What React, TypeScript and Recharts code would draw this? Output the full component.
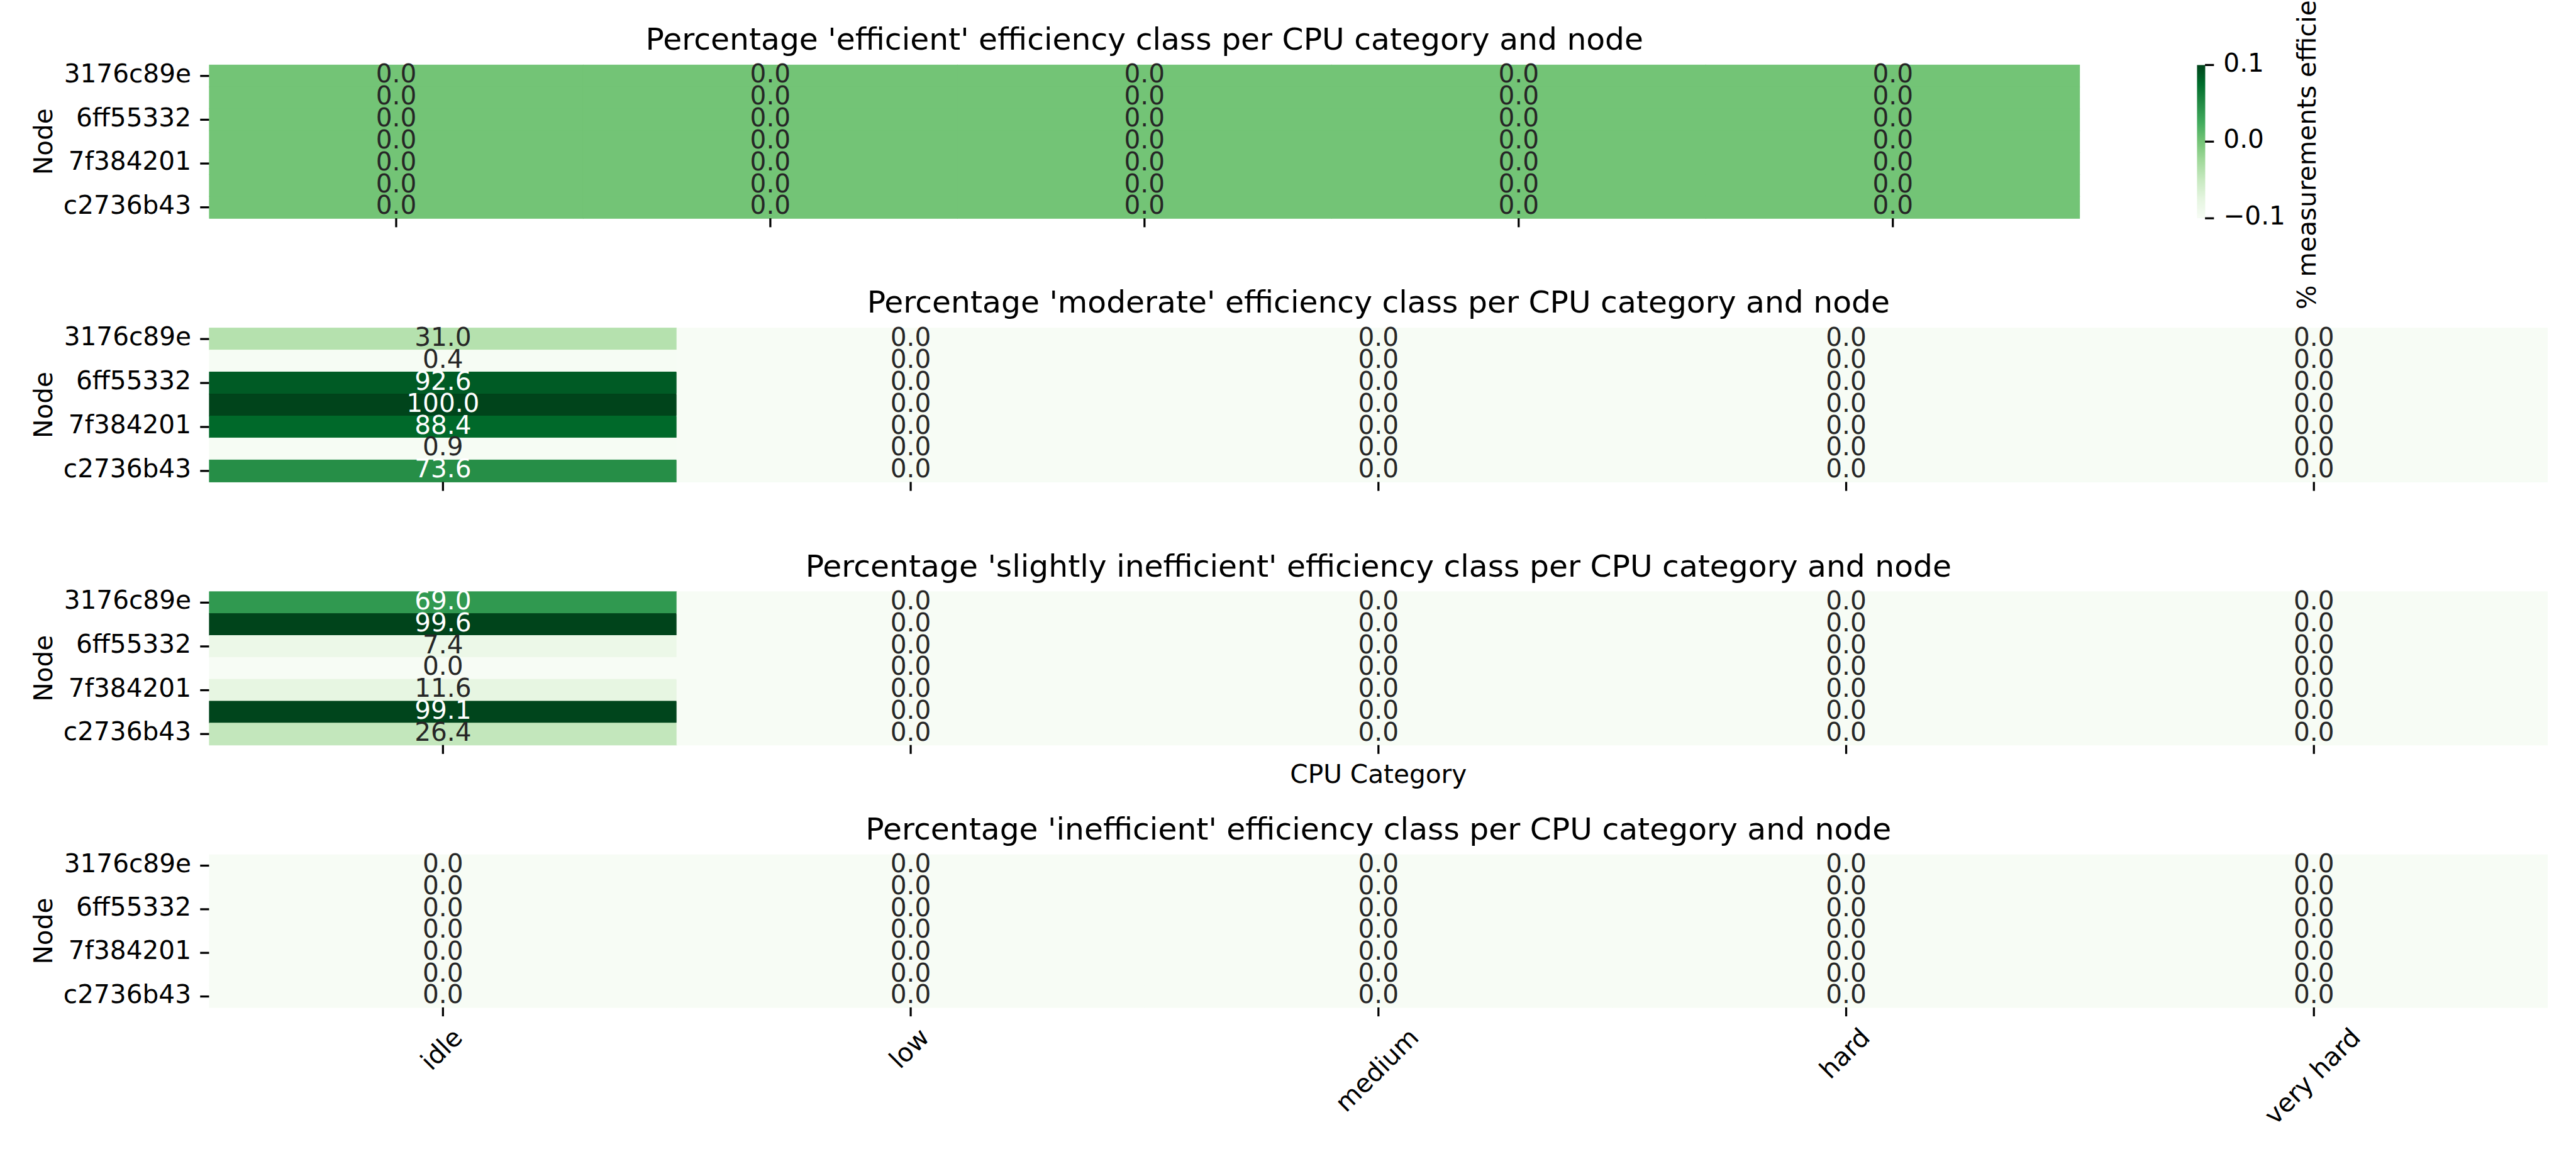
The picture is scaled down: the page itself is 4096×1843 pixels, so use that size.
import React from 'react';
import { BarChart, Bar, XAxis, YAxis, Customized } from 'recharts';

// ---------------- data ----------------
const nodes = ['3176c89e', 'node 2 (label hidden)', '6ff55332', 'node 4 (label hidden)', '7f384201', 'node 6 (label hidden)', 'c2736b43'];
const categories = ['idle', 'low', 'medium', 'hard', 'very hard'];

const efficientPct = [
  [0.0, 0.0, 0.0, 0.0, 0.0],
  [0.0, 0.0, 0.0, 0.0, 0.0],
  [0.0, 0.0, 0.0, 0.0, 0.0],
  [0.0, 0.0, 0.0, 0.0, 0.0],
  [0.0, 0.0, 0.0, 0.0, 0.0],
  [0.0, 0.0, 0.0, 0.0, 0.0],
  [0.0, 0.0, 0.0, 0.0, 0.0],
];
const moderatePct = [
  [31.0, 0.0, 0.0, 0.0, 0.0],
  [0.4, 0.0, 0.0, 0.0, 0.0],
  [92.6, 0.0, 0.0, 0.0, 0.0],
  [100.0, 0.0, 0.0, 0.0, 0.0],
  [88.4, 0.0, 0.0, 0.0, 0.0],
  [0.9, 0.0, 0.0, 0.0, 0.0],
  [73.6, 0.0, 0.0, 0.0, 0.0],
];
const slightlyInefficientPct = [
  [69.0, 0.0, 0.0, 0.0, 0.0],
  [99.6, 0.0, 0.0, 0.0, 0.0],
  [7.4, 0.0, 0.0, 0.0, 0.0],
  [0.0, 0.0, 0.0, 0.0, 0.0],
  [11.6, 0.0, 0.0, 0.0, 0.0],
  [99.1, 0.0, 0.0, 0.0, 0.0],
  [26.4, 0.0, 0.0, 0.0, 0.0],
];
const inefficientPct = [
  [0.0, 0.0, 0.0, 0.0, 0.0],
  [0.0, 0.0, 0.0, 0.0, 0.0],
  [0.0, 0.0, 0.0, 0.0, 0.0],
  [0.0, 0.0, 0.0, 0.0, 0.0],
  [0.0, 0.0, 0.0, 0.0, 0.0],
  [0.0, 0.0, 0.0, 0.0, 0.0],
  [0.0, 0.0, 0.0, 0.0, 0.0],
];
const colorbarTicks = [-0.1, 0.0, 0.1];
const colorbarRange = [{ name: 'cbar', range: [-0.1, 0.1] }];
const colorbarLabel = '% measurements efficient';

// ---------------- styling / layout ----------------
const S = 0.975;
const W = 4096;
const H = 1843;
const FONT = '"DejaVu Sans", "Liberation Sans", sans-serif';
const FS = 41.67 * S;
const TITLE_FS = 50 * S;
const TICK = 14.6 * S;
const LW = 3.33 * S;
const LEFT = 341;
const GREENS = ['#f7fcf5', '#e5f5e0', '#c7e9c0', '#a1d99b', '#74c476', '#41ab5d', '#238b45', '#006d2c', '#00441b'];

const hexToRgb = (h: string) => [parseInt(h.slice(1, 3), 16), parseInt(h.slice(3, 5), 16), parseInt(h.slice(5, 7), 16)];
const greens = (t: number) => {
  const c = Math.max(0, Math.min(1, t));
  const q = Math.min(255, Math.floor(c * 256)) / 255;
  const pos = q * 8;
  const i = Math.min(7, Math.floor(pos));
  const f = pos - i;
  const a = hexToRgb(GREENS[i]);
  const b = hexToRgb(GREENS[i + 1]);
  return a.map((v, k) => Math.round(v + (b[k] - v) * f));
};
const rgbStr = (c: number[]) => `rgb(${c[0]},${c[1]},${c[2]})`;
const lum = (c: number[]) => {
  const lin = c.map((v) => {
    const x = v / 255;
    return x <= 0.03928 ? x / 12.92 : Math.pow((x + 0.055) / 1.055, 2.4);
  });
  return 0.2126 * lin[0] + 0.7152 * lin[1] + 0.0722 * lin[2];
};

let ctx: CanvasRenderingContext2D | null = null;
const measure = (text: string, px: number) => {
  if (!ctx) ctx = document.createElement('canvas').getContext('2d');
  if (!ctx) return text.length * px * 0.6;
  ctx.font = `${px}px "DejaVu Sans"`;
  return ctx.measureText(text).width;
};

type PanelCfg = {
  title: string;
  values: number[][];
  vmin: number;
  vmax: number;
  top: number;
  bottom: number;
  right: number;
  showXLabels: boolean;
  xLabel?: string;
};

const panels: PanelCfg[] = [
  { title: "Percentage 'efficient' efficiency class per CPU category and node", values: efficientPct, vmin: -0.1, vmax: 0.1, top: 106, bottom: 356, right: 3392, showXLabels: false },
  { title: "Percentage 'moderate' efficiency class per CPU category and node", values: moderatePct, vmin: 0, vmax: 100, top: 535, bottom: 786, right: 4155, showXLabels: false },
  { title: "Percentage 'slightly inefficient' efficiency class per CPU category and node", values: slightlyInefficientPct, vmin: 0, vmax: 99.6, top: 965, bottom: 1215, right: 4155, showXLabels: false, xLabel: 'CPU Category' },
  { title: "Percentage 'inefficient' efficiency class per CPU category and node", values: inefficientPct, vmin: 0, vmax: 0, top: 1394, bottom: 1643, right: 4155, showXLabels: true },
];

const YTick = (props: any) => {
  const { y, payload } = props;
  return (
    <text x={(LEFT - 29.2) * S} y={y} dy="0.25em" textAnchor="end" fontSize={FS} fontFamily={FONT} fill="#000">
      {payload.value}
    </text>
  );
};

const EmptyTick = () => <g />;

const makeXTick = (bottom: number) => (props: any) => {
  const { x, payload } = props;
  const label = categories[Math.floor(payload.value)];
  const w = measure(label, FS);
  const h = FS;
  const topY = (bottom + 29.2) * S;
  const cy = topY + ((w + h) * Math.SQRT1_2) / 2;
  return (
    <text
      transform={`translate(${x},${cy}) rotate(-45)`}
      x={0}
      y={0}
      dy="0.26em"
      textAnchor="middle"
      fontSize={FS}
      fontFamily={FONT}
      fill="#000"
    >
      {label}
    </text>
  );
};

const PanelDecor = ({ cfg }: { cfg: PanelCfg }) => {
  const cx = ((LEFT + cfg.right) / 2) * S;
  const cy = ((cfg.top + cfg.bottom) / 2) * S;
  return (
    <g>
      <text x={cx} y={(cfg.top - 25) * S} textAnchor="middle" fontSize={TITLE_FS} fontFamily={FONT} fill="#000">
        {cfg.title}
      </text>
      <text
        transform={`translate(${85 * S},${cy}) rotate(-90)`}
        textAnchor="middle"
        fontSize={FS}
        fontFamily={FONT}
        fill="#000"
      >
        Node
      </text>
      {cfg.xLabel ? (
        <text x={cx} y={1277 * S} textAnchor="middle" fontSize={FS} fontFamily={FONT} fill="#000">
          {cfg.xLabel}
        </text>
      ) : null}
    </g>
  );
};

const HeatPanel = ({ cfg }: { cfg: PanelCfg }) => {
  const data = nodes.map((node, i) => {
    const row: any = { node };
    categories.forEach((_, j) => {
      row[`c${j}`] = 1;
      row[`v${j}`] = cfg.values[i][j];
    });
    return row;
  });
  const XH = 20;
  const top = cfg.top * S;
  const bottom = cfg.bottom * S;
  const right = cfg.right * S;
  const norm = (v: number) => (cfg.vmax > cfg.vmin ? (v - cfg.vmin) / (cfg.vmax - cfg.vmin) : 0);
  const XTick = makeXTick(cfg.bottom);
  return (
    <div style={{ position: 'absolute', left: 0, top: 0 }}>
      <BarChart
        width={W}
        height={H}
        data={data}
        layout="vertical"
        margin={{ top, bottom: H - bottom - XH, left: 0, right: W - right }}
        barCategoryGap={0}
        barGap={0}
      >
        <XAxis
          type="number"
          domain={[0, categories.length]}
          ticks={categories.map((_, j) => j + 0.5)}
          height={XH}
          interval={0}
          axisLine={false}
          stroke="#000"
          tickSize={TICK}
          tickLine={{ stroke: '#000', strokeWidth: LW }}
          tick={cfg.showXLabels ? <XTick /> : <EmptyTick />}
          allowDataOverflow
        />
        <YAxis
          type="category"
          dataKey="node"
          width={LEFT * S}
          interval={1}
          axisLine={false}
          stroke="#000"
          tickSize={TICK}
          tickLine={{ stroke: '#000', strokeWidth: LW }}
          tick={<YTick />}
        />
        {categories.map((_, j) => (
          <Bar
            key={j}
            dataKey={`c${j}`}
            stackId="cells"
            isAnimationActive={false}
            shape={(p: any) => {
              const v = p.payload[`v${j}`];
              const c = greens(norm(v));
              const fill = rgbStr(c);
              const tc = lum(c) > 0.408 ? '#262626' : '#ffffff';
              return (
                <g>
                  <rect x={p.x} y={p.y} width={p.width} height={p.height} fill={fill} stroke={fill} strokeWidth={1} />
                  <text
                    x={p.x + p.width / 2}
                    y={p.y + p.height / 2}
                    dy="0.26em"
                    textAnchor="middle"
                    fontSize={FS}
                    fontFamily={FONT}
                    fill={tc}
                  >
                    {v.toFixed(1)}
                  </text>
                </g>
              );
            }}
          />
        ))}
        <Customized component={<PanelDecor cfg={cfg} />} />
      </BarChart>
    </div>
  );
};

const fmtCb = (v: number) => (v < 0 ? '\u2212' + Math.abs(v).toFixed(1) : v.toFixed(1));

const CbTick = (props: any) => {
  const { y, payload } = props;
  return (
    <text x={3626 * S} y={y} dy="0.25em" textAnchor="start" fontSize={FS} fontFamily={FONT} fill="#000">
      {fmtCb(payload.value)}
    </text>
  );
};

const CbDecor = () => (
  <g>
    <defs>
      <linearGradient id="cbGrad" x1="0" y1="1" x2="0" y2="0">
        {GREENS.map((c, i) => (
          <stop key={i} offset={i / (GREENS.length - 1)} stopColor={c} />
        ))}
      </linearGradient>
    </defs>
    <text
      transform={`translate(${3776 * S},${231 * S}) rotate(-90)`}
      textAnchor="middle"
      fontSize={FS}
      fontFamily={FONT}
      fill="#000"
    >
      {colorbarLabel}
    </text>
  </g>
);

const Colorbar = () => {
  const YW = 200;
  return (
    <div style={{ position: 'absolute', left: 0, top: 0 }}>
      <BarChart
        width={W}
        height={H}
        data={colorbarRange}
        margin={{ top: 106 * S, bottom: H - 356 * S, left: 3583 * S, right: W - 3596 * S - YW }}
        barCategoryGap={0}
      >
        <Customized component={<CbDecor />} />
        <XAxis dataKey="name" type="category" hide height={0} />
        <YAxis
          type="number"
          orientation="right"
          domain={[-0.1, 0.1]}
          ticks={colorbarTicks}
          width={YW}
          interval={0}
          axisLine={false}
          stroke="#000"
          tickSize={TICK}
          tickLine={{ stroke: '#000', strokeWidth: LW }}
          tick={<CbTick />}
          allowDataOverflow
        />
        <Bar dataKey="range" fill="url(#cbGrad)" isAnimationActive={false} />
      </BarChart>
    </div>
  );
};

export default function App() {
  return (
    <div style={{ position: 'absolute', left: 0, top: 0, width: W, height: H, overflow: 'hidden', background: '#ffffff' }}>
      {panels.map((cfg, i) => (
        <HeatPanel key={i} cfg={cfg} />
      ))}
      <Colorbar />
    </div>
  );
}
